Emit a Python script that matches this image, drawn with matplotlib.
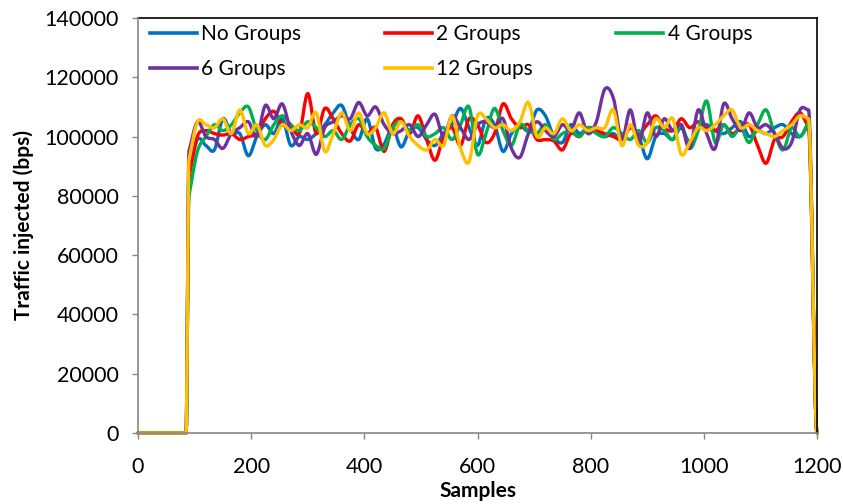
import matplotlib.pyplot as plt
import numpy as np
from matplotlib.path import Path
from matplotlib.patches import PathPatch
from matplotlib.lines import Line2D

plt.rcParams['font.family'] = ['Lato', 'DejaVu Sans']

# sample positions: flat zero, then one reading every 15 samples, then zero again
samples = [0, 85] + list(range(90, 1186, 15)) + [1200]

no_groups = [0, 0,
    88000, 99000, 97000, 95500, 106000, 101000, 101000, 93500, 100000, 104000,
    101000, 106000, 97000, 100000, 99000, 101000, 104000, 108000, 110500, 103000,
    99000, 106000, 96000, 97500, 103000, 96500, 102000, 103000, 99000, 97000,
    101000, 104000, 109500, 103000, 97000, 106000, 104000, 95000, 101000, 104000,
    102000, 109000, 107000, 100000, 98000, 104000, 101000, 103000, 102000, 100000,
    101000, 99000, 103000, 100000, 92500, 100000, 101000, 99000, 103000, 98000,
    103000, 104000, 102000, 101000, 103000, 105000, 100000, 102000, 101000, 103000,
    104000, 101000, 100000, 104000,
    0]
groups_2 = [0, 0,
    86000, 100000, 102000, 101000, 100500, 101000, 99000, 100000, 101000, 106000,
    108500, 104000, 104000, 101000, 114500, 101000, 109500, 106000, 101000, 98500,
    104000, 101000, 103000, 95000, 104000, 106000, 101000, 107000, 99000, 92000,
    100000, 103000, 97000, 106000, 104000, 98000, 101000, 111000, 106000, 103000,
    104000, 99000, 99000, 98500, 95500, 101000, 100000, 103000, 102000, 101000,
    100000, 99000, 103000, 101000, 104000, 107000, 103000, 102000, 106000, 103000,
    105000, 103000, 102000, 104000, 101000, 103000, 104000, 97000, 91000, 99000,
    100000, 105000, 108000, 103000,
    0]
groups_4 = [0, 0,
    80000, 95000, 100000, 104000, 102000, 104000, 108000, 110000, 102000, 99000,
    104000, 107000, 104000, 102000, 105000, 103000, 100000, 102000, 99000, 104000,
    106000, 100000, 97000, 96000, 103000, 105000, 102000, 104000, 100000, 101000,
    103000, 99000, 104000, 110000, 94000, 101000, 109500, 102000, 97000, 104000,
    102000, 101000, 104000, 99000, 101000, 102000, 100000, 103000, 101000, 100000,
    103000, 101000, 99000, 102000, 98000, 103000, 102000, 99000, 104000, 96000,
    102000, 112000, 98000, 104000, 100000, 103000, 98000, 104000, 109000, 101000,
    95500, 103000, 100000, 105000,
    0]
groups_6 = [0, 0,
    95000, 105000, 100000, 99000, 96000, 101000, 103000, 105000, 100000, 110500,
    106000, 111000, 102000, 97000, 101000, 94000, 103000, 105000, 107000, 106000,
    111500, 107000, 110000, 104000, 101000, 102000, 104000, 100000, 104000, 107500,
    100000, 107000, 103000, 99000, 104000, 105000, 103000, 106000, 96000, 93000,
    101000, 105000, 102000, 100000, 104000, 102000, 108000, 101000, 105000, 116000,
    113000, 99000, 109000, 98000, 108000, 100000, 106000, 102000, 104000, 96000,
    109000, 101000, 96000, 111000, 106000, 102000, 108000, 103000, 104000, 101000,
    96000, 98000, 109000, 109000,
    0]
groups_12 = [0, 0,
    92000, 105000, 104000, 103000, 106000, 101000, 109000, 101000, 104000, 97000,
    99000, 104000, 102000, 104000, 103000, 108000, 95000, 101000, 108000, 102000,
    108000, 101000, 103000, 108000, 101000, 105000, 100000, 97000, 95500, 99000,
    97000, 107000, 96000, 91500, 107000, 106000, 103000, 104000, 102000, 105000,
    111500, 100000, 103000, 101000, 106000, 102000, 104000, 102000, 103000, 103000,
    109000, 97000, 104000, 97000, 98000, 106000, 103000, 106000, 94000, 98000,
    103000, 102000, 104000, 107000, 109000, 103000, 104000, 102000, 101000, 100000,
    102000, 104000, 107000, 106000,
    0]

labels = ['No Groups', '2 Groups', '4 Groups', '6 Groups', '12 Groups']
series = [no_groups, groups_2, groups_4, groups_6, groups_12]
colors = ['#0070C0', '#FF0000', '#00B050', '#7030A0', '#FFC000']


def smooth_path(x, y):
    # smoothed line like a spreadsheet chart (cubic bezier segments)
    x = np.asarray(x, float)
    y = np.asarray(y, float)
    n = len(x)
    slope = np.diff(y) / np.diff(x)
    m = np.zeros(n)
    for i in range(n):
        if y[i] == 0:
            continue
        s = []
        if i > 0 and y[i - 1] != 0:
            s.append(slope[i - 1])
        if i < n - 1 and y[i + 1] != 0:
            s.append(slope[i])
        m[i] = np.mean(s) if s else 0
    verts = [(x[0], y[0])]
    codes = [Path.MOVETO]
    for i in range(n - 1):
        h = x[i + 1] - x[i]
        verts += [(x[i] + h / 3, y[i] + m[i] * h / 3),
                  (x[i + 1] - h / 3, y[i + 1] - m[i + 1] * h / 3),
                  (x[i + 1], y[i + 1])]
        codes += [Path.CURVE4] * 3
    return Path(verts, codes)


fig = plt.figure(figsize=(8.43, 5.04), dpi=100)
ax = fig.add_axes([0.1637, 0.1409, 0.8055, 0.8234])

handles = []
for vals, col, lab in zip(series, colors, labels):
    patch = PathPatch(smooth_path(samples, vals), facecolor='none', edgecolor=col,
                      lw=2.4, joinstyle='round', capstyle='round', clip_on=False)
    ax.add_patch(patch)
    handles.append(Line2D([], [], color=col, lw=2.6, label=lab))

ax.set_xlim(0, 1200)
ax.set_ylim(0, 140000)
ax.set_xticks(range(0, 1201, 200))
ax.set_yticks(range(0, 140001, 20000))

gray = '#868686'
for side in ['left', 'bottom']:
    ax.spines[side].set_color(gray)
    ax.spines[side].set_linewidth(1.2)
for side in ['top', 'right']:
    ax.spines[side].set_color('black')
    ax.spines[side].set_linewidth(1.2)
ax.spines['left'].set_zorder(5)
ax.spines['bottom'].set_zorder(5)

ax.tick_params(axis='both', direction='out', length=4, width=1.0, color=gray,
               labelsize=15.5, labelcolor='black')
ax.tick_params(axis='y', pad=10)
ax.tick_params(axis='x', pad=13)

ax.set_xlabel('Samples', fontsize=15, fontweight='bold', labelpad=3)
ax.set_ylabel('Traffic injected (bps)', fontsize=15, fontweight='bold', labelpad=7)

order = [0, 3, 1, 4, 2]
ax.legend([handles[i] for i in order], [labels[i] for i in order],
          loc='upper left', bbox_to_anchor=(0.018, 0.985), ncol=3, frameon=False,
          fontsize=15, handlelength=2.26, handletextpad=0.2, columnspacing=4.0,
          labelspacing=0.7, borderpad=0, borderaxespad=0)

fig.savefig('out.png', dpi=100, facecolor='white')
